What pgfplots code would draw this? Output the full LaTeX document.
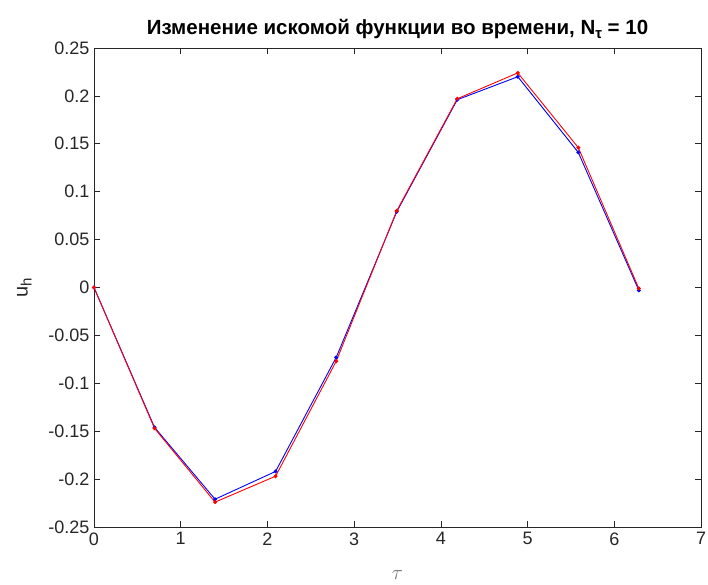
\documentclass[border=0pt]{standalone}
\usepackage{fontspec}
\setmainfont{Liberation Sans}
\usepackage{pgfplots}
\pgfplotsset{compat=1.18}

\definecolor{axgray}{gray}{0.15}

\begin{document}
\begin{tikzpicture}
\useasboundingbox (-94pt,-58pt) rectangle (614pt,527pt);
\begin{axis}[
  scale only axis,
  width=607pt, height=479pt,
  xmin=0, xmax=7, ymin=-0.25, ymax=0.25,
  xtick={0,1,...,7},
  ytick={-0.25,-0.2,...,0.25},
  yticklabels={-0.25,-0.2,-0.15,-0.1,-0.05,0,0.05,0.1,0.15,0.2,0.25},
  tick align=inside,
  major tick length=6pt,
  axis line style={axgray, line width=0.6pt},
  every tick/.style={axgray, line width=0.6pt},
  tick label style={font=\fontsize{18}{20}\selectfont, text=axgray},
  /pgf/number format/assume math mode=true,
  xticklabel style={yshift=-2pt},
  yticklabel style={xshift=-1pt},
  title={\textbf{Изменение искомой функции во времени, N\raisebox{-4pt}{\fontsize{15}{16}\selectfont τ} = 10}},
  title style={font=\fontsize{20.5}{22}\selectfont, yshift=0pt},
  xlabel={$\tau$},
  xlabel style={font=\fontsize{20}{22}\selectfont, text=black!55, yshift=-18pt},
  ylabel={u\raisebox{-4pt}{\fontsize{15}{16}\selectfont h}},
  ylabel style={font=\fontsize{20}{22}\selectfont, text=axgray, yshift=10pt},
  clip=false,
]
\addplot[blue, line width=0.9pt, mark=*, mark size=1.5pt] coordinates {
  (0,0) (0.698,-0.146) (1.396,-0.221) (2.094,-0.192) (2.793,-0.073)
  (3.491,0.079) (4.189,0.196) (4.887,0.220) (5.585,0.141) (6.283,-0.003)
};
\addplot[red, line width=0.9pt, mark=*, mark size=1.5pt] coordinates {
  (0,0) (0.698,-0.147) (1.396,-0.224) (2.094,-0.197) (2.793,-0.077)
  (3.491,0.080) (4.189,0.197) (4.887,0.224) (5.585,0.146) (6.283,-0.001)
};
\end{axis}
\end{tikzpicture}
\end{document}
